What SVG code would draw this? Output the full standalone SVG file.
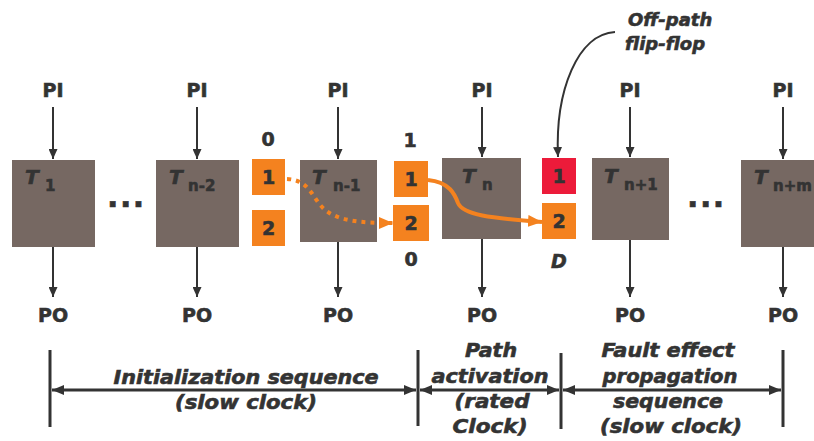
<svg xmlns="http://www.w3.org/2000/svg" width="814" height="441" viewBox="0 0 814 441">
<defs>
<style>
.box{fill:#766862}
.ff{fill:#F4821F}
.ffr{fill:#EC1B3A}
.t{font-family:"DejaVu Sans","Liberation Sans",sans-serif;font-weight:bold;fill:#333333;stroke:#333333;stroke-width:0.6}
.io{font-size:19px;text-anchor:middle}
.tl{font-size:20px;font-style:italic}
.sub{font-size:15px}
.num{font-size:19px;text-anchor:middle}
.bt{font-size:19px;font-style:italic;text-anchor:middle}
.ln{stroke:#333333;stroke-width:2;fill:none}
.dim{stroke:#333333;stroke-width:3;fill:none}
.bar{stroke:#333333;stroke-width:3}
.or{stroke:#F4821F;stroke-width:4;fill:none}
</style>
<marker id="ah" markerUnits="userSpaceOnUse" viewBox="0 0 10 9" refX="10" refY="4.5" markerWidth="10" markerHeight="9" orient="auto-start-reverse"><path d="M0,0 L10,4.5 L0,9 z" fill="#333333"/></marker>
<marker id="ahb" markerUnits="userSpaceOnUse" viewBox="0 0 12 10" refX="12" refY="5" markerWidth="12" markerHeight="10" orient="auto-start-reverse"><path d="M0,0 L12,5 L0,10 z" fill="#333333"/></marker>
<marker id="aho" markerUnits="userSpaceOnUse" viewBox="0 0 14 12" refX="14" refY="6" markerWidth="14" markerHeight="12" orient="auto"><path d="M0,0 L14,6 L0,12 z" fill="#F4821F"/></marker>
</defs>
<rect width="814" height="441" fill="#ffffff"/>

<g id="T1">
<rect class="box" x="12" y="160" width="83" height="87"/>
<text class="t tl" x="25" y="184">T</text><text class="t sub" x="45" y="191">1</text>
<text class="t io" x="53" y="97">PI</text><text class="t io" x="53" y="322">PO</text>
</g>
<g id="ellipsis1"><text class="t" x="107" y="207" font-size="30" letter-spacing="1.5">...</text></g>
<g id="Tn-2">
<rect class="box" x="156" y="160" width="83" height="87"/>
<text class="t tl" x="169" y="184">T</text><text class="t sub" x="188" y="191">n-2</text>
<text class="t io" x="197" y="97">PI</text><text class="t io" x="197" y="322">PO</text>
</g>
<g id="Tn-1">
<rect class="box" x="300" y="160" width="77" height="82"/>
<text class="t tl" x="312" y="184">T</text><text class="t sub" x="333" y="191">n-1</text>
<text class="t io" x="338" y="97">PI</text><text class="t io" x="338" y="322">PO</text>
</g>
<g id="Tn">
<rect class="box" x="442" y="158" width="79" height="81"/>
<text class="t tl" x="462" y="183">T</text><text class="t sub" x="482" y="190">n</text>
<text class="t io" x="482" y="97">PI</text><text class="t io" x="482" y="322">PO</text>
</g>
<g id="Tn+1">
<rect class="box" x="592" y="158" width="77" height="82"/>
<text class="t tl" x="604" y="183">T</text><text class="t sub" x="624" y="190">n+1</text>
<text class="t io" x="630" y="97">PI</text><text class="t io" x="630" y="322">PO</text>
</g>
<g id="ellipsis2"><text class="t" x="687" y="207" font-size="30" letter-spacing="1.5">...</text></g>
<g id="Tn+m">
<rect class="box" x="741" y="160" width="82" height="87"/>
<text class="t tl" x="754" y="184">T</text><text class="t sub" x="773" y="191">n+m</text>
<text class="t io" x="783" y="97">PI</text><text class="t io" x="783" y="322">PO</text>
</g>

<g id="ffA">
<text class="t num" x="268" y="146">0</text>
<rect class="ff" x="252" y="159" width="33" height="36"/><text class="t num" x="268.5" y="184">1</text>
<rect class="ff" x="252" y="210" width="33" height="36"/><text class="t num" x="268.5" y="235">2</text>
</g>
<g id="ffB">
<text class="t num" x="410" y="147">1</text>
<rect class="ff" x="394" y="161" width="34" height="36"/><text class="t num" x="411" y="186">1</text>
<rect class="ff" x="393" y="205" width="36" height="36"/><text class="t num" x="411" y="230">2</text>
<text class="t num" x="411" y="266">0</text>
</g>
<g id="ffC">
<rect class="ffr" x="542" y="158" width="34" height="36"/><text class="t num" x="559" y="183">1</text>
<rect class="ff" x="542" y="203" width="34" height="36"/><text class="t num" x="559" y="228">2</text>
<text class="t num" x="559" y="268" font-style="italic">D</text>
</g>
<g id="offpath-label">
<text class="t" x="628" y="26" font-size="18" font-style="italic">Off-path</text>
<text class="t" x="625" y="50" font-size="18" font-style="italic">flip-flop</text>
</g>

<g id="phase-init">
<text class="t bt" x="246" y="384" textLength="265" lengthAdjust="spacingAndGlyphs">Initialization sequence</text>
<text class="t bt" x="246" y="409" textLength="142" lengthAdjust="spacingAndGlyphs">(slow clock)</text>
</g>
<g id="phase-path">
<text class="t bt" x="491" y="357" textLength="52" lengthAdjust="spacingAndGlyphs">Path</text>
<text class="t bt" x="490" y="383" textLength="117" lengthAdjust="spacingAndGlyphs">activation</text>
<text class="t bt" x="492" y="408" textLength="75" lengthAdjust="spacingAndGlyphs">(rated</text>
<text class="t bt" x="490" y="433" textLength="75" lengthAdjust="spacingAndGlyphs">Clock)</text>
</g>
<g id="phase-fault">
<text class="t bt" x="668" y="357" textLength="133" lengthAdjust="spacingAndGlyphs">Fault effect</text>
<text class="t bt" x="670" y="383" textLength="135" lengthAdjust="spacingAndGlyphs">propagation</text>
<text class="t bt" x="668" y="408" textLength="110" lengthAdjust="spacingAndGlyphs">sequence</text>
<text class="t bt" x="671" y="433" textLength="142" lengthAdjust="spacingAndGlyphs">(slow clock)</text>
</g>

<g id="connectors">
<line class="ln" x1="53" y1="107" x2="53" y2="159" marker-end="url(#ah)"/>
<line class="ln" x1="53" y1="247" x2="53" y2="297" marker-end="url(#ah)"/>
<line class="ln" x1="197" y1="107" x2="197" y2="159" marker-end="url(#ah)"/>
<line class="ln" x1="197" y1="247" x2="197" y2="297" marker-end="url(#ah)"/>
<line class="ln" x1="338" y1="107" x2="338" y2="159" marker-end="url(#ah)"/>
<line class="ln" x1="338" y1="242" x2="338" y2="297" marker-end="url(#ah)"/>
<line class="ln" x1="482" y1="107" x2="482" y2="157" marker-end="url(#ah)"/>
<line class="ln" x1="482" y1="239" x2="482" y2="297" marker-end="url(#ah)"/>
<line class="ln" x1="630" y1="107" x2="630" y2="157" marker-end="url(#ah)"/>
<line class="ln" x1="630" y1="240" x2="630" y2="297" marker-end="url(#ah)"/>
<line class="ln" x1="783" y1="107" x2="783" y2="159" marker-end="url(#ah)"/>
<line class="ln" x1="783" y1="247" x2="783" y2="297" marker-end="url(#ah)"/>
<path class="or" stroke-dasharray="4 5" d="M287 179 C310 180 312 198 324 209 C338 221 360 223 393 223" marker-end="url(#aho)"/>
<path class="or" d="M428 180 C450 182 455 195 458 203 C463 215 490 218 542 222" marker-end="url(#aho)"/>
<path class="ln" d="M615 32 C578 34 555 90 558 157" marker-end="url(#ah)"/>
<line class="bar" x1="50" y1="350" x2="50" y2="427"/>
<line class="bar" x1="418" y1="350" x2="418" y2="426"/>
<line class="bar" x1="561" y1="353" x2="561" y2="429"/>
<line class="bar" x1="783" y1="350" x2="783" y2="427"/>
<line class="dim" x1="52" y1="390" x2="416" y2="390" marker-start="url(#ahb)" marker-end="url(#ahb)"/>
<line class="dim" x1="420" y1="390" x2="559" y2="390" marker-start="url(#ahb)" marker-end="url(#ahb)"/>
<line class="dim" x1="563" y1="390" x2="781" y2="390" marker-start="url(#ahb)" marker-end="url(#ahb)"/>
</g>
</svg>
